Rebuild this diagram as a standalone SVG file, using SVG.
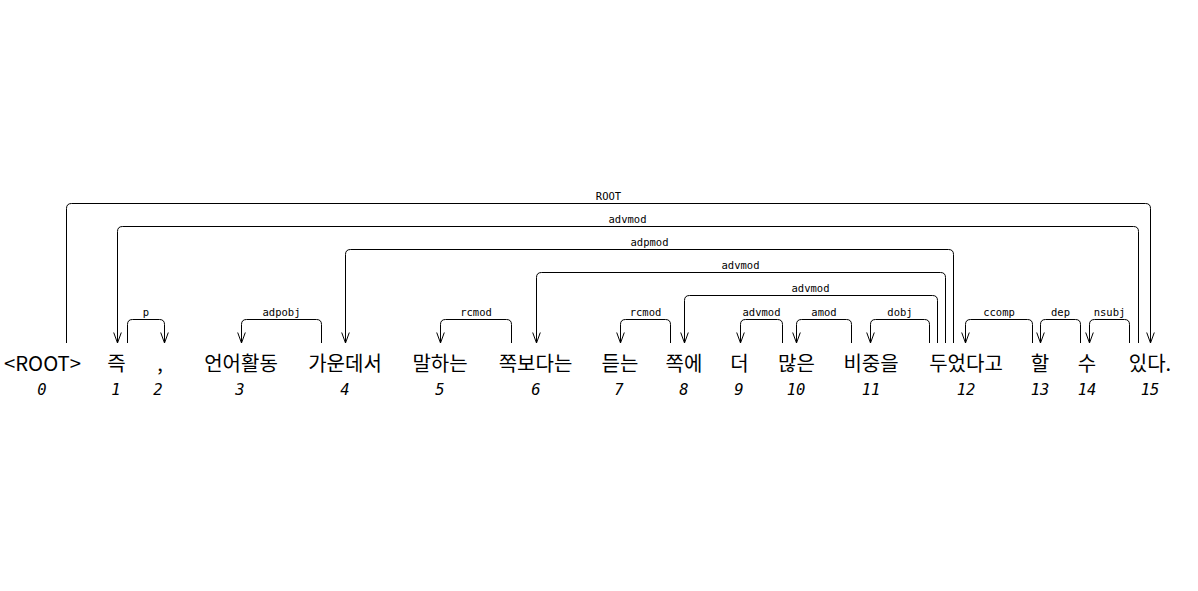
<svg xmlns="http://www.w3.org/2000/svg" width="1198" height="591" viewBox="0 0 1198 591">
<style>
.w{font-family:"Noto Sans CJK KR","DejaVu Sans",sans-serif;font-size:20px;fill:#000;text-anchor:middle}
.i{font-family:"DejaVu Sans Mono",monospace;font-style:italic;font-size:15.5px;fill:#000;text-anchor:middle}
.l{font-family:"DejaVu Sans Mono",monospace;font-size:10.5px;fill:#000;text-anchor:middle}
.a{fill:none;stroke:#000;stroke-width:1;marker-end:url(#v)}
</style>
<defs>
<marker id="v" markerUnits="userSpaceOnUse" markerWidth="12" markerHeight="10" viewBox="-11 -5 12 10" refX="0" refY="0" orient="auto">
<path d="M-10.5,-3.8 L0,0 L-10.5,3.8" fill="none" stroke="#000" stroke-width="1"/>
</marker>
</defs>
<rect width="1198" height="591" fill="#fff"/>
<g id="connectors">
<path class="a" d="M66.5,343 V208.5 Q66.5,203.5 71.5,203.5 H1145.5 Q1150.5,203.5 1150.5,208.5 V343"/>
<path class="a" d="M1138.5,343 V231.5 Q1138.5,226.5 1133.5,226.5 H122.5 Q117.5,226.5 117.5,231.5 V343"/>
<path class="a" d="M953.5,343 V254.5 Q953.5,249.5 948.5,249.5 H350.5 Q345.5,249.5 345.5,254.5 V343"/>
<path class="a" d="M945.5,343 V277.5 Q945.5,272.5 940.5,272.5 H541.5 Q536.5,272.5 536.5,277.5 V343"/>
<path class="a" d="M937.5,343 V300.5 Q937.5,295.5 932.5,295.5 H689.5 Q684.5,295.5 684.5,300.5 V343"/>
<path class="a" d="M127.5,343 V324.5 Q127.5,319.5 132.5,319.5 H159.5 Q164.5,319.5 164.5,324.5 V343"/>
<path class="a" d="M321.5,343 V324.5 Q321.5,319.5 316.5,319.5 H246.5 Q241.5,319.5 241.5,324.5 V343"/>
<path class="a" d="M511.5,343 V324.5 Q511.5,319.5 506.5,319.5 H445.5 Q440.5,319.5 440.5,324.5 V343"/>
<path class="a" d="M670.5,343 V324.5 Q670.5,319.5 665.5,319.5 H625.5 Q620.5,319.5 620.5,324.5 V343"/>
<path class="a" d="M782.5,343 V324.5 Q782.5,319.5 777.5,319.5 H745.5 Q740.5,319.5 740.5,324.5 V343"/>
<path class="a" d="M851.5,343 V324.5 Q851.5,319.5 846.5,319.5 H801.5 Q796.5,319.5 796.5,324.5 V343"/>
<path class="a" d="M929.5,343 V324.5 Q929.5,319.5 924.5,319.5 H875.5 Q870.5,319.5 870.5,324.5 V343"/>
<path class="a" d="M1032.5,343 V324.5 Q1032.5,319.5 1027.5,319.5 H970.5 Q965.5,319.5 965.5,324.5 V343"/>
<path class="a" d="M1080.5,343 V324.5 Q1080.5,319.5 1075.5,319.5 H1045.5 Q1040.5,319.5 1040.5,324.5 V343"/>
<path class="a" d="M1129.5,343 V324.5 Q1129.5,319.5 1124.5,319.5 H1094.5 Q1089.5,319.5 1089.5,324.5 V343"/>
<text class="l" x="608.5" y="200">ROOT</text>
<text class="l" x="627.5" y="223">advmod</text>
<text class="l" x="649.5" y="246">adpmod</text>
<text class="l" x="740.5" y="269">advmod</text>
<text class="l" x="810.5" y="292">advmod</text>
<text class="l" x="146" y="315.5">p</text>
<text class="l" x="281.5" y="315.5">adpobj</text>
<text class="l" x="476" y="315.5">rcmod</text>
<text class="l" x="645.5" y="315.5">rcmod</text>
<text class="l" x="761.5" y="315.5">advmod</text>
<text class="l" x="824" y="315.5">amod</text>
<text class="l" x="900" y="315.5">dobj</text>
<text class="l" x="999" y="315.5">ccomp</text>
<text class="l" x="1060.5" y="315.5">dep</text>
<text class="l" x="1109.5" y="315.5">nsubj</text>
</g>
<g id="w0"><text class="w" x="42.5" y="371" textLength="77" lengthAdjust="spacingAndGlyphs">&lt;ROOT&gt;</text><text class="i" x="42" y="395">0</text></g>
<g id="w1"><text class="w" x="116.5" y="371">즉</text><text class="i" x="116" y="395">1</text></g>
<g id="w2"><text class="w" x="160" y="371">,</text><text class="i" x="158" y="395">2</text></g>
<g id="w3"><text class="w" x="241" y="371">언어활동</text><text class="i" x="240" y="395">3</text></g>
<g id="w4"><text class="w" x="345" y="371">가운데서</text><text class="i" x="345" y="395">4</text></g>
<g id="w5"><text class="w" x="440" y="371">말하는</text><text class="i" x="440" y="395">5</text></g>
<g id="w6"><text class="w" x="535.5" y="371">쪽보다는</text><text class="i" x="536" y="395">6</text></g>
<g id="w7"><text class="w" x="620" y="371">듣는</text><text class="i" x="619" y="395">7</text></g>
<g id="w8"><text class="w" x="684" y="371">쪽에</text><text class="i" x="684" y="395">8</text></g>
<g id="w9"><text class="w" x="739.5" y="371">더</text><text class="i" x="739" y="395">9</text></g>
<g id="w10"><text class="w" x="796.5" y="371">많은</text><text class="i" x="796" y="395">10</text></g>
<g id="w11"><text class="w" x="871" y="371">비중을</text><text class="i" x="871" y="395">11</text></g>
<g id="w12"><text class="w" x="966" y="371">두었다고</text><text class="i" x="966" y="395">12</text></g>
<g id="w13"><text class="w" x="1040" y="371">할</text><text class="i" x="1040" y="395">13</text></g>
<g id="w14"><text class="w" x="1087" y="371">수</text><text class="i" x="1087" y="395">14</text></g>
<g id="w15"><text class="w" x="1150" y="371">있다.</text><text class="i" x="1150" y="395">15</text></g>
</svg>
